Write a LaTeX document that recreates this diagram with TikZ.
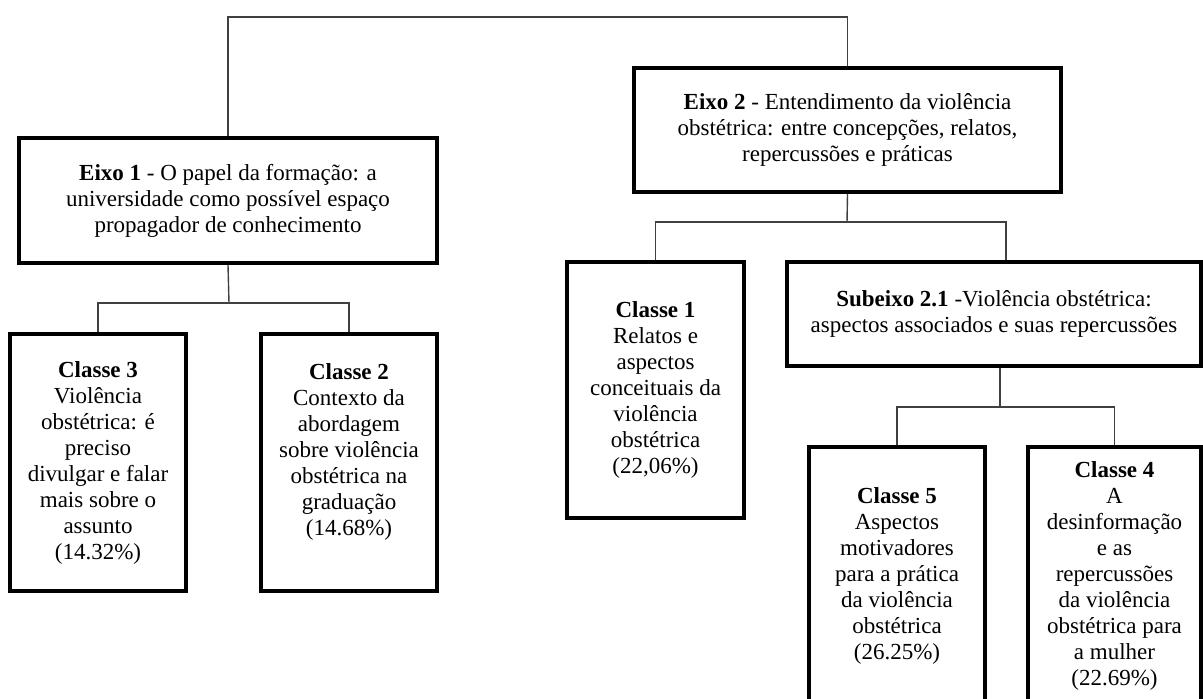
\documentclass[tikz,border=0pt]{standalone}
\usepackage{fontspec}
\setmainfont{Liberation Serif}
\usepackage{tikz}
\usetikzlibrary{positioning,calc}
\definecolor{linhaCinza}{RGB}{64,64,64}

\begin{document}
\begin{tikzpicture}[
  x=0.5pt,y=-0.5pt,
  caixa/.style={draw,line width=2pt,align=center,inner sep=2pt,font=\fontsize{11.5pt}{13pt}\selectfont},
  ligacao/.style={draw=linhaCinza,line width=0.7pt}
]
  \useasboundingbox (0,0) rectangle (1203,698);
  \clip (0,0) rectangle (1203,698);

  \node[caixa,minimum width=209pt,minimum height=62.5pt] (eixoUm) at (228,200.5)
    {\textbf{Eixo 1} - O papel da formação: a\\universidade como possível espaço\\propagador de conhecimento};
  \node[caixa,minimum width=213.5pt,minimum height=62pt] (eixoDois) at (847.5,130)
    {\textbf{Eixo 2} - Entendimento da violência\\obstétrica: entre concepções, relatos,\\repercussões e práticas};
  \node[caixa,minimum width=88pt,minimum height=128.5pt] (classeTres) at (98,462.5)
    {\textbf{Classe 3}\\Violência\\obstétrica: é\\preciso\\divulgar e falar\\mais sobre o\\assunto\\(14.32\%)};
  \node[caixa,minimum width=88pt,minimum height=128.5pt] (classeDois) at (349,462.5)
    {\textbf{Classe 2}\\Contexto da\\abordagem\\sobre violência\\obstétrica na\\graduação\\(14.68\%)\\\mbox{}};
  \node[caixa,minimum width=88.5pt,minimum height=128pt] (classeUm) at (655.5,390)
    {\textbf{Classe 1}\\Relatos e\\aspectos\\conceituais da\\violência\\obstétrica\\(22,06\%)};
  \node[caixa,minimum width=207pt,minimum height=52pt] (subeixo) at (994,314)
    {\textbf{Subeixo 2.1} -Violência obstétrica:\\aspectos associados e suas repercussões};
  \node[caixa,minimum width=88pt,minimum height=129pt] (classeCinco) at (897,576)
    {\textbf{Classe 5}\\Aspectos\\motivadores\\para a prática\\da violência\\obstétrica\\(26.25\%)};
  \node[caixa,minimum width=86.5pt,minimum height=129pt] (classeQuatro) at (1114.5,576)
    {\textbf{Classe 4}\\A\\desinformação\\e as\\repercussões\\da violência\\obstétrica para\\a mulher\\(22.69\%)};

  % pontos de ramificacao
  \coordinate (topo) at (540,17);
  \coordinate (garfoUm) at (229,303);
  \coordinate (garfoDois) at (847,222);
  \coordinate (garfoSub) at (1000,407);

  \draw[ligacao] (eixoUm.north) |- (topo) -| (eixoDois.north);

  \draw[ligacao] (eixoUm.south) -- (garfoUm);
  \draw[ligacao] (classeTres.north) |- (garfoUm) -| (classeDois.north);

  \draw[ligacao] (eixoDois.south) -- (garfoDois);
  \draw[ligacao] (classeUm.north) |- (garfoDois) -| ([xshift=6pt]subeixo.north);

  \draw[ligacao] ([xshift=3pt]subeixo.south) -- (garfoSub);
  \draw[ligacao] (classeCinco.north) |- (garfoSub) -| (classeQuatro.north);
\end{tikzpicture}
\end{document}
